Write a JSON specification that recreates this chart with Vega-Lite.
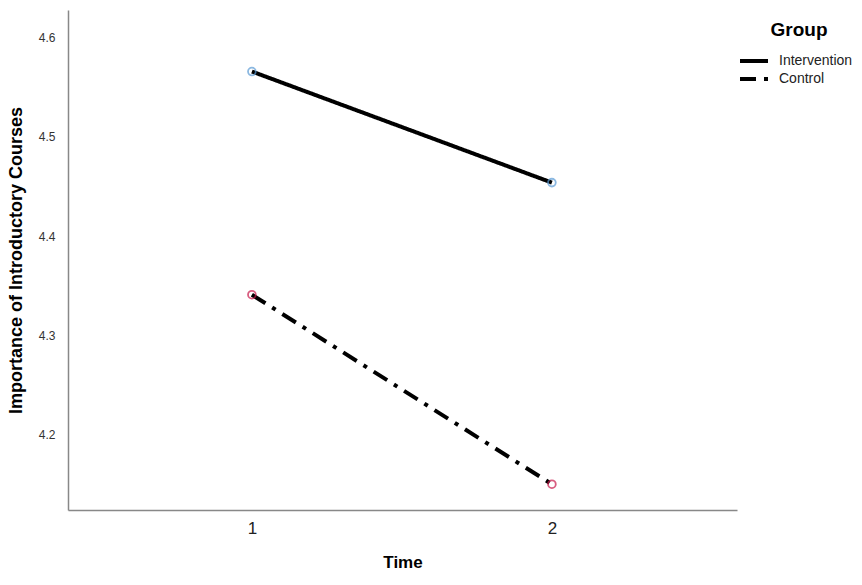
{
  "$schema": "https://vega.github.io/schema/vega-lite/v6.json",
  "width": 669,
  "height": 500,
  "autosize": "none",
  "padding": {"left": 68, "top": 10, "right": 125, "bottom": 75},
  "background": "white",
  "config": {
    "view": {"stroke": null},
    "font": "Liberation Sans"
  },
  "data": {
    "values": [
      {"Time": 1, "Group": "Intervention", "Value": 4.566},
      {"Time": 2, "Group": "Intervention", "Value": 4.454},
      {"Time": 1, "Group": "Control", "Value": 4.341},
      {"Time": 2, "Group": "Control", "Value": 4.150}
    ]
  },
  "encoding": {
    "x": {
      "field": "Time",
      "type": "quantitative",
      "scale": {"domain": [0.387, 2.617], "nice": false, "zero": false},
      "axis": {
        "title": "Time",
        "values": [1, 2],
        "format": "d",
        "grid": false,
        "ticks": false,
        "domainColor": "#888888",
        "domainWidth": 1.5,
        "labelFontSize": 17,
        "labelColor": "#222222",
        "labelPadding": 10,
        "titleFontSize": 17,
        "titleFontWeight": "bold",
        "titleColor": "#000000",
        "titlePadding": 18
      }
    },
    "y": {
      "field": "Value",
      "type": "quantitative",
      "scale": {"domain": [4.124, 4.628], "nice": false, "zero": false},
      "axis": {
        "title": "Importance of Introductory Courses",
        "values": [4.2, 4.3, 4.4, 4.5, 4.6],
        "format": ".1f",
        "grid": false,
        "ticks": false,
        "domainColor": "#888888",
        "domainWidth": 1.5,
        "labelFontSize": 12,
        "labelColor": "#333333",
        "labelPadding": 13,
        "titleFontSize": 18,
        "titleFontWeight": "bold",
        "titleColor": "#000000",
        "titlePadding": 13
      }
    }
  },
  "layer": [
    {
      "mark": {"type": "line", "color": "black", "strokeWidth": 4},
      "encoding": {
        "strokeDash": {
          "field": "Group",
          "type": "nominal",
          "scale": {"domain": ["Intervention", "Control"], "range": [[1, 0], [16, 8, 4, 8]]},
          "legend": {
            "title": "Group",
            "orient": "none",
            "legendX": 677,
            "legendY": 11,
            "titleFontSize": 19,
            "titleFontWeight": "bold",
            "titleColor": "#000000",
            "titlePadding": 12,
            "titleAnchor": "middle",
            "labelFontSize": 14,
            "labelColor": "#222222",
            "symbolType": "M-2,0H2",
            "symbolStrokeWidth": 4,
            "symbolStrokeColor": "black",
            "symbolSize": 196,
            "rowPadding": 1,
            "labelOffset": 16
          }
        }
      }
    },
    {
      "mark": {"type": "point", "shape": "circle", "filled": false, "size": 60, "strokeWidth": 1.8},
      "encoding": {
        "color": {
          "condition": {"test": "datum.Group === 'Control'", "value": "#c8194b"},
          "value": "#5b9bd5"
        }
      }
    }
  ]
}
